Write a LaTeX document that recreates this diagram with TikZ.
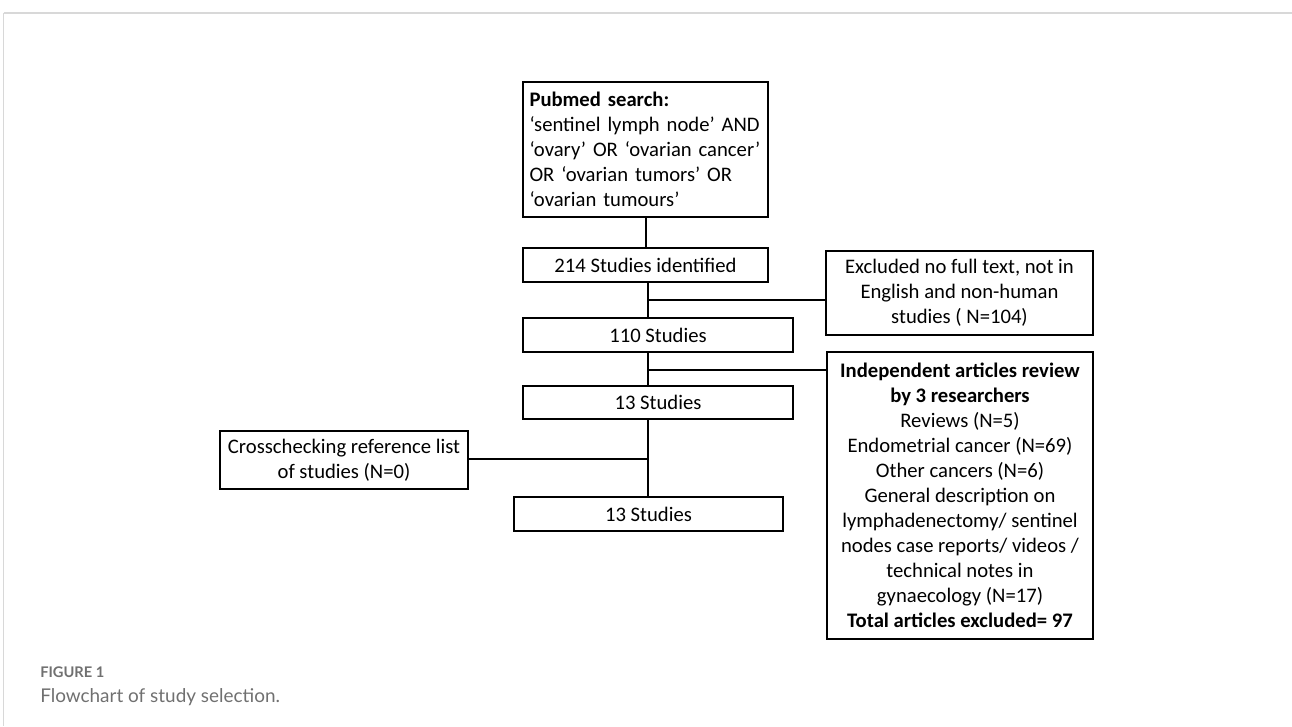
\documentclass[tikz,border=0pt]{standalone}
\usepackage{fontspec}
\setmainfont{Carlito}
\newfontfamily\capfont{Lato}
\definecolor{capgray}{HTML}{707070}
\definecolor{framegray}{HTML}{D8D8D8}
\begin{document}
\begin{tikzpicture}[x=0.75pt,y=-0.75pt,
  box/.style={draw,line width=1.4pt,inner sep=0pt,align=center,
    font=\fontsize{15.5}{18.75}\selectfont},
  conn/.style={line width=1.4pt}]
\useasboundingbox (0,0) rectangle (1292,726);
% figure frame
\draw[framegray,line width=1.6pt] (3.5,13) -- (1292,13);
\draw[framegray,line width=0.8pt] (3.5,13) -- (3.5,726);
% boxes
\node[box,minimum width=183.75pt,minimum height=101.25pt,text width=174pt,align=left] (pub) at (645.5,149.5)
 {\textbf{Pubmed search:}\\ `sentinel lymph node' AND\\ `ovary' OR `ovarian cancer'\\ OR `ovarian tumors' OR\\ `ovarian tumours'};
\node[box,minimum width=183.75pt,minimum height=25.5pt] (s214) at (645.5,265) {214 Studies identified};
\node[box,minimum width=200.25pt,minimum height=63pt] (excl) at (959.5,293)
 {Excluded no full text, not in\\ English and non-human\\ studies ( N=104)};
\node[box,minimum width=202.5pt,minimum height=25.5pt] (s110) at (658,335) {110 Studies};
\node[box,minimum width=199.5pt,minimum height=215.25pt] (indep) at (960,495.5)
 {\textbf{Independent articles review}\\ \textbf{by 3 researchers}\\ Reviews (N=5)\\ Endometrial cancer (N=69)\\ Other cancers (N=6)\\ General description on\\ lymphadenectomy/ sentinel\\ nodes case reports/ videos /\\ technical notes in\\ gynaecology (N=17)\\ \textbf{Total articles excluded= 97}};
\node[box,minimum width=202.5pt,minimum height=24.75pt] (s13a) at (658,402.5) {13 Studies};
\node[box,anchor=east,inner xsep=6pt,minimum height=43.5pt] (cross) at (469,460)
 {Crosschecking reference list\\ of studies (N=0)};
\node[box,minimum width=201.75pt,minimum height=25.5pt] (s13b) at (648.5,514) {13 Studies};
% spine coordinates
\coordinate (b0) at (646,0);
\coordinate (b1) at (648,300);
\coordinate (b2) at (648,370);
\coordinate (b3) at (648,459);
% connectors
\draw[conn] (pub.south -| b0) -- (s214.north -| b0);
\draw[conn] (s214.south -| b1) -- (s110.north -| b1);
\draw[conn] (b1) -- (excl.west |- b1);
\draw[conn] (s110.south -| b2) -- (s13a.north -| b2);
\draw[conn] (b2) -- (indep.west |- b2);
\draw[conn] (s13a.south -| b3) -- (s13b.north -| b3);
\draw[conn] (cross.east |- b3) -- (b3);
% caption
\node[anchor=base west,inner sep=0pt,text=capgray,font=\capfont\bfseries\fontsize{11}{13}\selectfont] (figlabel) at (40,677) {FIGURE 1};
\node[anchor=base west,inner sep=0pt,text=capgray,font=\capfont\fontsize{14.2}{17}\selectfont] (figcap) at (40,702) {Flowchart of study selection.};
\end{tikzpicture}
\end{document}
